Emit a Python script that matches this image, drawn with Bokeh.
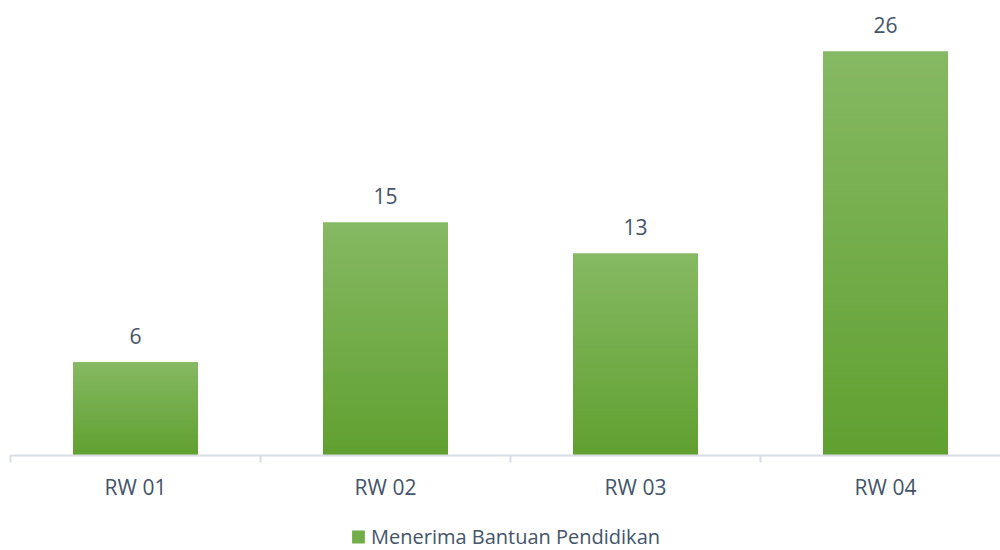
from bokeh.plotting import figure
from bokeh.layouts import column
from bokeh.models import ColumnDataSource, Range1d, FixedTicker, Legend, LegendItem, LinearAxis
from bokeh.embed import file_html
from bokeh.resources import INLINE
from bokeh.core.properties import value

categories = ["RW 01", "RW 02", "RW 03", "RW 04"]
counts = [6, 15, 13, 26]
series_name = "Menerima Bantuan Pendidikan"

TEXT = "#44546a"
TOP = (134, 185, 99)
BOT = (96, 160, 48)
FONT = "Open Sans"

p = figure(frame_width=990, frame_height=455, output_backend="svg", toolbar_location=None,
           x_range=Range1d(0, 3.96), y_range=Range1d(0, 29.28),
           min_border_left=10, min_border_right=0, min_border_top=0, min_border_bottom=0,
           x_axis_location=None, y_axis_location=None)
p.outline_line_color = None
p.xgrid.visible = False
p.ygrid.visible = False

# gradient bars built from the data as overlapping stacked slices
N = 90
L, R, B, T, C = [], [], [], [], []
for i, v in enumerate(counts):
    xc = i + 0.5
    for j in range(N):
        f = (j + 0.5) / N
        col = tuple(int(round(BOT[k] + (TOP[k] - BOT[k]) * f)) for k in range(3))
        L.append(xc - 0.25); R.append(xc + 0.25)
        B.append(v * j / N); T.append(min(v, v * (j + 2) / N))
        C.append("#%02x%02x%02x" % col)
src = ColumnDataSource(dict(left=L, right=R, bottom=B, top=T, color=C))
p.quad(left="left", right="right", bottom="bottom", top="top", source=src,
       fill_color="color", line_color=None)

# data labels
lab = ColumnDataSource(dict(x=[i + 0.5 for i in range(len(counts))], y=counts,
                            t=[str(v) for v in counts]))
p.text(x="x", y="y", text="t", source=lab, text_align="center", text_baseline="alphabetic",
       y_offset=-26, text_font=value(FONT), text_font_size="21px", text_color=TEXT)

# x axis
ax = LinearAxis(ticker=FixedTicker(ticks=[i + 0.5 for i in range(len(categories))],
                                   minor_ticks=list(range(len(categories) + 1))))
ax.major_label_overrides = {i + 0.5: c for i, c in enumerate(categories)}
ax.axis_line_color = "#d9dde4"
ax.axis_line_width = 2
ax.major_tick_line_color = None
ax.major_tick_out = 0
ax.major_tick_in = 0
ax.minor_tick_line_color = "#d9dde4"
ax.minor_tick_line_width = 2
ax.minor_tick_out = 7
ax.minor_tick_in = 0
ax.major_label_standoff = 10
ax.major_label_text_font = FONT
ax.major_label_text_font_size = "21px"
ax.major_label_text_color = TEXT
p.add_layout(ax, "below")

# legend in its own strip below the chart
q = figure(width=1000, height=48, output_backend="svg", toolbar_location=None,
           x_range=Range1d(100, 101), y_range=Range1d(100, 101),
           min_border_left=0, min_border_right=0, min_border_top=18, min_border_bottom=0,
           x_axis_location=None, y_axis_location=None)
q.outline_line_color = None
q.xgrid.visible = False
q.ygrid.visible = False
ghost = q.quad(left="left", right="right", bottom="bottom", top="top", source=src,
               fill_color="color", line_color=None)
leg = Legend(items=[LegendItem(label=series_name, renderers=[ghost], index=N // 2)],
             orientation="horizontal", location="center",
             label_text_font=FONT, label_text_font_size="20px", label_text_color=TEXT,
             glyph_width=16, glyph_height=16, label_standoff=5,
             border_line_color=None, background_fill_alpha=0,
             padding=0, margin=0, spacing=0)
q.add_layout(leg, "center")

layout = column(p, q, spacing=0)
open("out.html", "w").write(file_html(layout, INLINE))
